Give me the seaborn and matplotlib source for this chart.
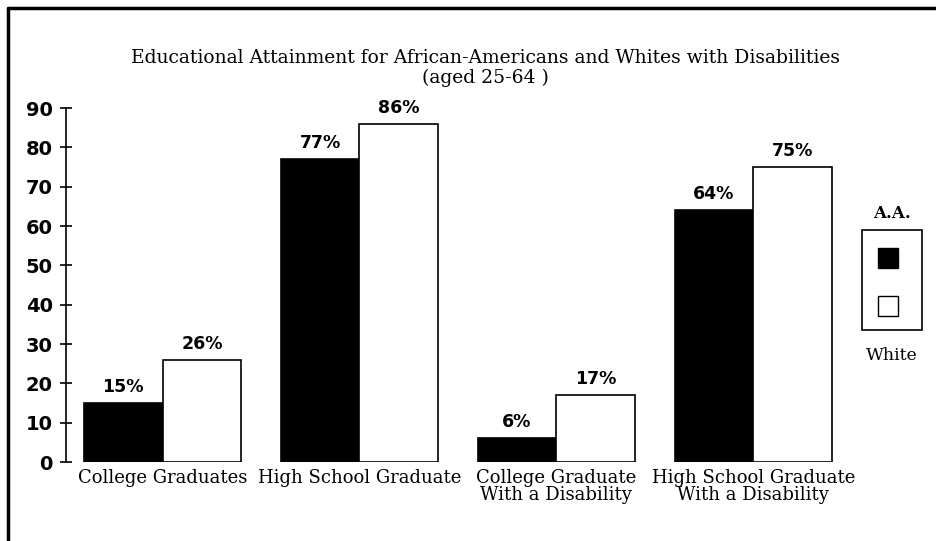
import numpy as np
import pandas as pd
import matplotlib as mpl
import matplotlib.pyplot as plt
from matplotlib.patches import Rectangle
from matplotlib.lines import Line2D
import seaborn as sns

sns.set_style('white')
mpl.rcParams.update({'text.color': 'black', 'xtick.color': 'black',
                     'ytick.color': 'black', 'axes.labelcolor': 'black'})

categories = ['College Graduates', 'High School Graduate',
              'College Graduate\nWith a Disability',
              'High School Graduate\nWith a Disability']
aa_values = [15, 77, 6, 64]
white_values = [26, 86, 17, 75]
groups = ['A.A.', 'White']
y_ticks = [0, 10, 20, 30, 40, 50, 60, 70, 80, 90]

df = pd.DataFrame({
    'category': categories * 2,
    'group': [groups[0]] * len(categories) + [groups[1]] * len(categories),
    'value': aa_values + white_values,
})

serif = 'DejaVu Serif'
sans = 'DejaVu Sans'

fig = plt.figure(figsize=(9.36, 5.41), dpi=100)
ax = fig.add_axes([66 / 936, 79 / 541, 774 / 936, 354 / 541])

sns.barplot(data=df, x='category', y='value', hue='group',
            palette={'A.A.': 'black', 'White': 'white'},
            edgecolor='black', linewidth=1.2, ax=ax, legend=False,
            errorbar=None)

for cont in ax.containers:
    ax.bar_label(cont, fmt='%d%%', padding=5, fontsize=12.5,
                 fontweight='bold', family=sans, color='black')

ax.set_ylim(0, 90)
ax.set_xlim(-0.49, 3.44)
ax.set_yticks(y_ticks)
ax.set_yticklabels([str(v) for v in y_ticks], fontsize=14,
                   fontweight='bold', family=sans)
ax.tick_params(axis='y', direction='inout', length=9, width=1.2,
               left=True, pad=5, colors='black')
ax.tick_params(axis='x', length=0, pad=5, colors='black')
ax.set_xticks(range(len(categories)))
ax.set_xticklabels(categories, fontsize=13, family=serif,
                   linespacing=0.95)
ax.set_xlabel('')
ax.set_ylabel('')
for side in ['top', 'right', 'bottom']:
    ax.spines[side].set_visible(False)
ax.spines['left'].set_color('black')
ax.spines['left'].set_linewidth(1.2)

fig.text(485 / 936, 1 - 58 / 541,
         'Educational Attainment for African-Americans and Whites with Disabilities',
         ha='center', va='center', fontsize=13.5, family=serif)
fig.text(485 / 936, 1 - 78 / 541, '(aged 25-64 )',
         ha='center', va='center', fontsize=13.5, family=serif)

# legend drawn by hand like the original
fig.text(892 / 936, 1 - 213 / 541, groups[0], ha='center', va='center',
         fontsize=12, fontweight='bold', family=serif)
fig.text(892 / 936, 1 - 356 / 541, groups[1], ha='center', va='center',
         fontsize=12.5, family=serif)
fig.patches.append(Rectangle((862 / 936, 1 - 330 / 541), 60 / 936,
                             100 / 541, transform=fig.transFigure,
                             facecolor='white', edgecolor='black', lw=1.2))
fig.patches.append(Rectangle((878 / 936, 1 - 268 / 541), 20 / 936,
                             20 / 541, transform=fig.transFigure,
                             facecolor='black', edgecolor='black', lw=1))
fig.patches.append(Rectangle((878 / 936, 1 - 316 / 541), 20 / 936,
                             20 / 541, transform=fig.transFigure,
                             facecolor='white', edgecolor='black', lw=1))

# scanned page frame
fig.lines.append(Line2D([8 / 936, 8 / 936], [0, 1 - 8 / 541],
                        transform=fig.transFigure, color='black', lw=2.5))
fig.lines.append(Line2D([8 / 936, 1], [1 - 8 / 541, 1 - 8 / 541],
                        transform=fig.transFigure, color='black', lw=2.5))

fig.savefig('out.png', dpi=100)
